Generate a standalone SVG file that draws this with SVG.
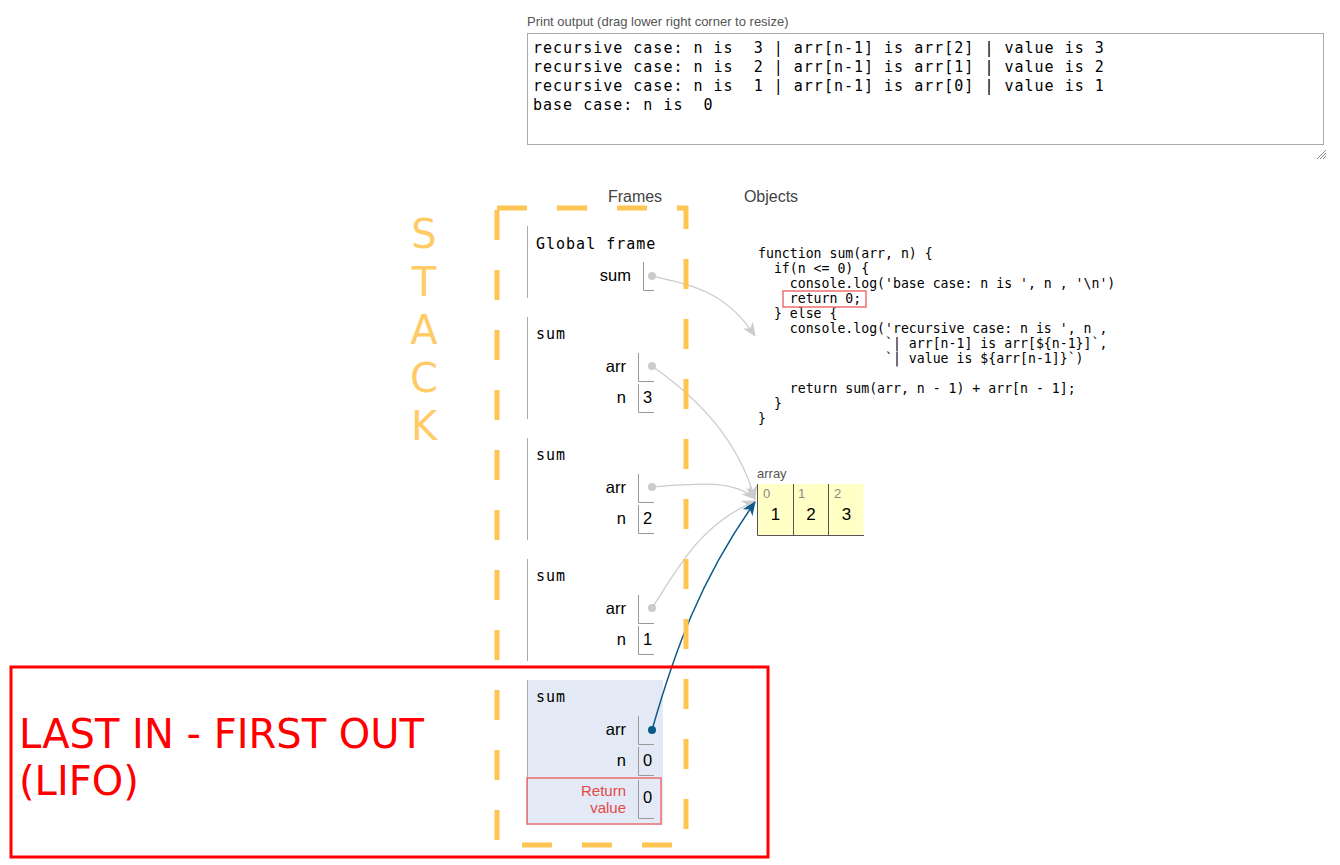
<svg xmlns="http://www.w3.org/2000/svg" width="1340" height="865" viewBox="0 0 1340 865">
<style>
.lbl{font-family:"Liberation Sans",Arial,sans-serif;}
.mono{font-family:"DejaVu Sans Mono",monospace;}
.out{font-family:"DejaVu Sans Mono",monospace;font-size:15px;letter-spacing:1px;fill:#000;white-space:pre;}
.code{font-family:"DejaVu Sans Mono",monospace;font-size:13.2px;fill:#000;white-space:pre;}
.fname{font-family:"DejaVu Sans Mono",monospace;font-size:15px;letter-spacing:1px;fill:#000;}
.var{font-family:"Liberation Sans",Arial,sans-serif;font-size:16.5px;fill:#000;text-anchor:end;}
.val{font-family:"Liberation Sans",Arial,sans-serif;font-size:16.5px;fill:#000;}
.fline{stroke:#aaa;stroke-width:1;fill:none;}
.vbox{stroke:#999;stroke-width:1;fill:none;}
.dot{fill:#ccc;}
.conn{fill:none;stroke:#ccc;stroke-width:1.3;}
.big{font-family:"DejaVu Sans",sans-serif;font-size:40px;}
</style>
<defs>
<marker id="ag" viewBox="0 0 14 12" refX="13" refY="6" markerWidth="14" markerHeight="12" markerUnits="userSpaceOnUse" orient="auto">
<path d="M0,0 L14,6 L0,12 L4,6 z" fill="#ccc"/>
</marker>
<marker id="ab" viewBox="0 0 14 12" refX="13" refY="6" markerWidth="14" markerHeight="12" markerUnits="userSpaceOnUse" orient="auto">
<path d="M0,0 L14,6 L0,12 L4,6 z" fill="#0b5a87"/>
</marker>
</defs>
<rect width="1340" height="865" fill="#fff"/>

<!-- Print output -->
<g id="print-output">
<text class="lbl" x="527" y="26" font-size="13" fill="#555">Print output (drag lower right corner to resize)</text>
<rect x="527.5" y="33.5" width="796" height="111" fill="#fff" stroke="#aaa" stroke-width="1"/>
<text class="out" x="533" y="53">recursive case: n is  3 | arr[n-1] is arr[2] | value is 3</text>
<text class="out" x="533" y="72">recursive case: n is  2 | arr[n-1] is arr[1] | value is 2</text>
<text class="out" x="533" y="91">recursive case: n is  1 | arr[n-1] is arr[0] | value is 1</text>
<text class="out" x="533" y="110">base case: n is  0</text>
<path d="M1317,159 L1326,150 M1320,159 L1326,153 M1323,159 L1326,156" stroke="#888" stroke-width="1"/>
</g>

<text class="lbl" x="635" y="202" font-size="16" fill="#444" text-anchor="middle">Frames</text>
<text class="lbl" x="771" y="202" font-size="16" fill="#444" text-anchor="middle">Objects</text>

<!-- STACK -->
<g id="stack-label" class="big" fill="#FFCB66" text-anchor="middle">
<text x="424" y="248">S</text>
<text x="424" y="296">T</text>
<text x="424" y="344">A</text>
<text x="424" y="392">C</text>
<text x="424" y="440">K</text>
</g>

<!-- Global frame -->
<g id="frame-global">
<line class="fline" x1="527.5" y1="226" x2="527.5" y2="298"/>
<text class="fname" x="536" y="249">Global frame</text>
<text class="var" x="631" y="281">sum</text>
<path class="vbox" d="M643.5,262 V290.5 H654"/>
<circle class="dot" cx="652" cy="276" r="4"/>
</g>

<g id="frame-sum-3">
<line class="fline" x1="527.5" y1="317" x2="527.5" y2="419"/>
<text class="fname" x="536" y="339">sum</text>
<text class="var" x="626" y="372">arr</text>
<path class="vbox" d="M638.5,353 V381.5 H654"/>
<circle class="dot" cx="652" cy="366" r="4"/>
<text class="var" x="626" y="403">n</text>
<path class="vbox" d="M638.5,384 V412.5 H654"/>
<text class="val" x="643" y="403">3</text>
</g>

<g id="frame-sum-2">
<line class="fline" x1="527.5" y1="438" x2="527.5" y2="540"/>
<text class="fname" x="536" y="460">sum</text>
<text class="var" x="626" y="493">arr</text>
<path class="vbox" d="M638.5,474 V502.5 H654"/>
<circle class="dot" cx="652" cy="487" r="4"/>
<text class="var" x="626" y="524">n</text>
<path class="vbox" d="M638.5,505 V533.5 H654"/>
<text class="val" x="643" y="524">2</text>
</g>

<g id="frame-sum-1">
<line class="fline" x1="527.5" y1="559" x2="527.5" y2="661"/>
<text class="fname" x="536" y="581">sum</text>
<text class="var" x="626" y="614">arr</text>
<path class="vbox" d="M638.5,595 V623.5 H654"/>
<circle class="dot" cx="652" cy="608" r="4"/>
<text class="var" x="626" y="645">n</text>
<path class="vbox" d="M638.5,626 V654.5 H654"/>
<text class="val" x="643" y="645">1</text>
</g>

<g id="frame-sum-0">
<rect x="527" y="680" width="136" height="145" fill="#e3eaf5"/>
<line class="fline" x1="527.5" y1="680" x2="527.5" y2="825"/>
<text class="fname" x="536" y="702">sum</text>
<text class="var" x="626" y="735">arr</text>
<path class="vbox" d="M638.5,716 V744.5 H654"/>
<circle cx="652" cy="730" r="4" fill="#0b5a87"/>
<text class="var" x="626" y="766">n</text>
<path class="vbox" d="M638.5,747 V775.5 H654"/>
<text class="val" x="643" y="766">0</text>
<rect x="527" y="778" width="134" height="46" fill="none" stroke="#ee6f6f" stroke-width="1.5"/>
<text class="lbl" x="626" y="796" font-size="15" fill="#e34848" text-anchor="end">Return</text>
<text class="lbl" x="626" y="813" font-size="15" fill="#e34848" text-anchor="end">value</text>
<path class="vbox" d="M638.5,780 V818.5 H654"/>
<text class="val" x="643" y="803">0</text>
</g>

<!-- Function object -->
<g id="func-object">
<text class="code" x="758" y="258">function sum(arr, n) {</text>
<text class="code" x="758" y="273">  if(n &lt;= 0) {</text>
<text class="code" x="758" y="288">    console.log('base case: n is ', n , '\n')</text>
<text class="code" x="758" y="303">    return 0;</text>
<text class="code" x="758" y="318">  } else {</text>
<text class="code" x="758" y="333">    console.log('recursive case: n is ', n ,</text>
<text class="code" x="758" y="348">                `| arr[n-1] is arr[${n-1}]`,</text>
<text class="code" x="758" y="363">                `| value is ${arr[n-1]}`)</text>
<text class="code" x="758" y="393">    return sum(arr, n - 1) + arr[n - 1];</text>
<text class="code" x="758" y="408">  }</text>
<text class="code" x="758" y="423">}</text>
<rect x="783" y="291" width="83" height="16" fill="none" stroke="#ee6f6f" stroke-width="1.5"/>
</g>

<!-- Array object -->
<g id="array-object">
<text class="lbl" x="757" y="478" font-size="13" fill="#555">array</text>
<rect x="757.5" y="484" width="106" height="51" fill="#ffffc6"/>
<path d="M757.5,484 V535.5 H864 M793.5,484 V535.5 M828.5,484 V535.5" stroke="#555" stroke-width="1" fill="none"/>
<text class="lbl" x="763" y="498" font-size="13" fill="#888">0</text>
<text class="lbl" x="798" y="498" font-size="13" fill="#888">1</text>
<text class="lbl" x="834" y="498" font-size="13" fill="#888">2</text>
<text class="lbl" x="775.5" y="520" font-size="17" fill="#000" text-anchor="middle">1</text>
<text class="lbl" x="811" y="520" font-size="17" fill="#000" text-anchor="middle">2</text>
<text class="lbl" x="846.5" y="520" font-size="17" fill="#000" text-anchor="middle">3</text>
</g>

<!-- Connectors -->
<g id="connectors">
<path class="conn" d="M652,276 C690,285 725,290 755,336" marker-end="url(#ag)"/>
<path class="conn" d="M652,366 C700,400 738,440 755,499" marker-end="url(#ag)"/>
<path class="conn" d="M652,487 C700,483 735,480 755,499" marker-end="url(#ag)"/>
<path class="conn" d="M652,608 C680,565 700,525 755,501" marker-end="url(#ag)"/>
<path d="M652,730 C675,650 700,580 755,502" fill="none" stroke="#0b5a87" stroke-width="1.5" marker-end="url(#ab)"/>
</g>

<!-- Dashed stack outline -->
<g id="stack-outline">
<rect x="497" y="208" width="189" height="637" fill="none" stroke="#FFC552" stroke-width="5" stroke-dasharray="30 30"/>
</g>

<!-- LIFO annotation -->
<g id="lifo">
<rect x="11" y="667" width="757" height="190" fill="none" stroke="#ff0000" stroke-width="3"/>
<text class="big" x="19" y="748" fill="#ff0000">LAST IN - FIRST OUT</text>
<text class="big" x="19" y="795" fill="#ff0000">(LIFO)</text>
</g>
</svg>
